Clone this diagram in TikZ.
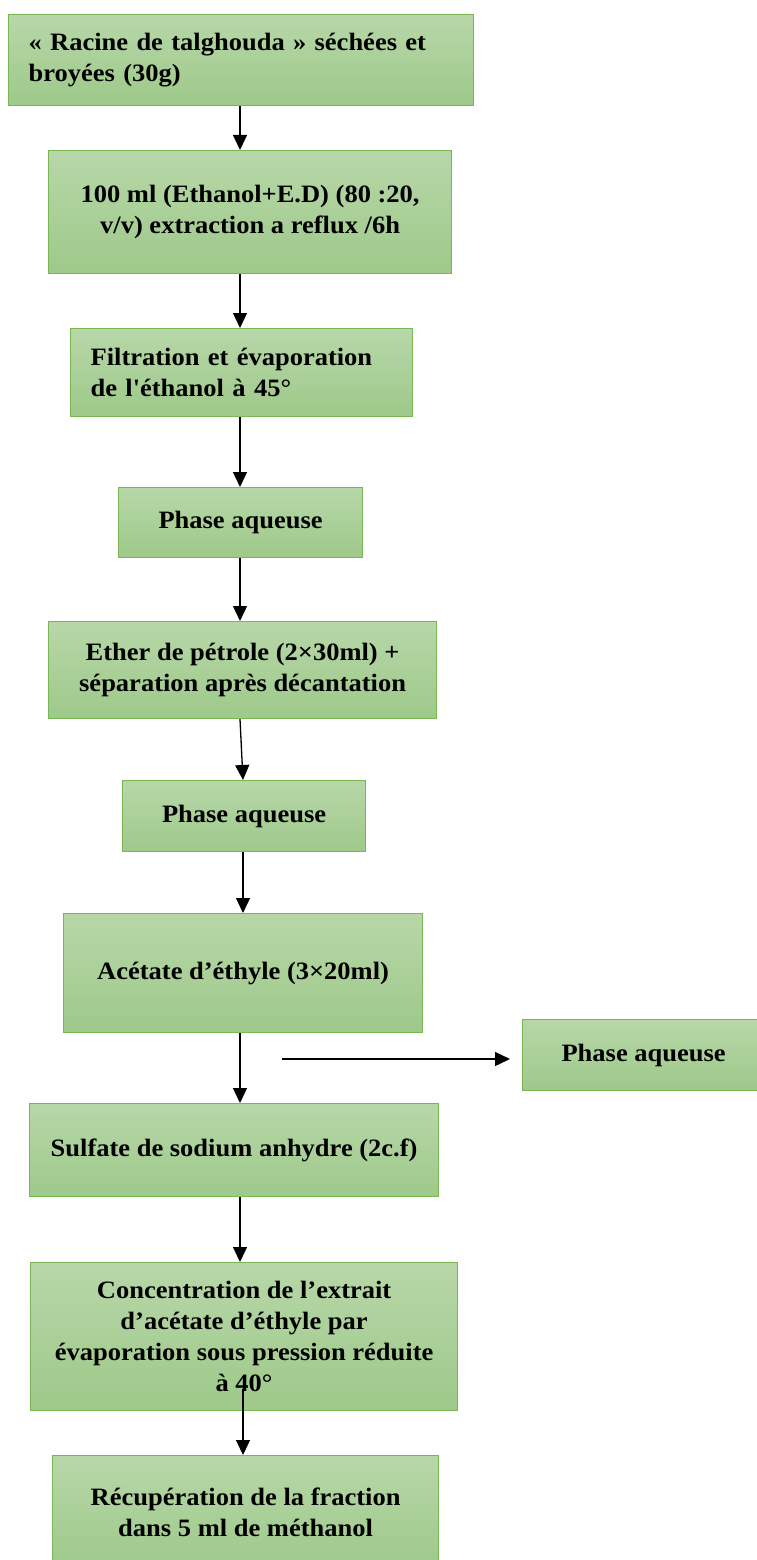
\documentclass[tikz,border=0pt]{standalone}
\usepackage{fontspec}
\setmainfont{Liberation Serif}[FakeStretch=1.06,Ligatures=TeXOff]
\usetikzlibrary{arrows.meta}
\definecolor{leafTop}{RGB}{183,215,168}
\definecolor{leafBot}{RGB}{158,201,138}
\definecolor{leafLine}{RGB}{122,182,84}

\begin{document}
\begin{tikzpicture}[x=1pt, y=-1pt,
  stage/.style={draw=leafLine, line width=1.2pt, top color=leafTop, bottom color=leafBot,
                anchor=north west, inner sep=0pt, align=center,
                font=\fontsize{25}{31}\selectfont\bfseries},
  stageL/.style={stage, align=left, inner xsep=20pt},
  arr/.style={-{Triangle[length=15pt,width=14pt]}, line width=1.3pt, draw=black}
]
  \useasboundingbox (0,0) rectangle (757,1560);

  % Nodes
  \node[stageL, minimum width=465pt, minimum height=91pt, text width=425pt] (racine) at (8,14)
    {« Racine de talghouda » séchées et\\broyées (30g)};
  \node[stage, minimum width=403pt, minimum height=123pt] (extr) at (48,150)
    {100 ml (Ethanol+E.D) (80 :20,\\v/v) extraction a reflux /6h};
  \node[stageL, minimum width=342pt, minimum height=88pt, text width=302pt] (filt) at (70,328)
    {Filtration et évaporation\\de l'éthanol à 45°};
  \node[stage, minimum width=244pt, minimum height=70pt] (aqa) at (118,487) {Phase aqueuse};
  \node[stage, minimum width=388pt, minimum height=97pt] (ether) at (48,621)
    {Ether de pétrole (2×30ml) +\\séparation après décantation};
  \node[stage, minimum width=243pt, minimum height=71pt] (aqb) at (122,780) {Phase aqueuse};
  \node[stage, minimum width=359pt, minimum height=119pt] (acet) at (63,913)
    {Acétate d’éthyle (3×20ml)};
  \node[stage, minimum width=242pt, minimum height=71pt] (aqc) at (522,1019) {Phase aqueuse};
  \node[stage, minimum width=409pt, minimum height=93pt] (sulf) at (29,1103)
    {Sulfate de sodium anhydre (2c.f)};
  \node[stage, minimum width=427pt, minimum height=148pt] (conc) at (30,1262)
    {Concentration de l’extrait\\d’acétate d’éthyle par\\évaporation sous pression réduite\\à 40°};
  \node[stage, minimum width=386pt, minimum height=114pt] (recup) at (52,1455)
    {Récupération de la fraction\\dans 5 ml de méthanol};

  \coordinate (ax) at (240,0);
  \coordinate (bx) at (243,0);
  \coordinate (cstart) at ([yshift=22pt]conc.south -| bx);
  \coordinate (hstart) at (282,1059);
  \coordinate (hend) at (510,1059);

  % Paths
  \draw[arr] (racine.south -| ax) -- (extr.north -| ax);
  \draw[arr] (extr.south -| ax) -- (filt.north -| ax);
  \draw[arr] (filt.south -| ax) -- (aqa.north -| ax);
  \draw[arr] (aqa.south -| ax) -- (ether.north -| ax);
  \draw[arr] (ether.south -| ax) -- (aqb.north -| bx);
  \draw[arr] (aqb.south -| bx) -- (acet.north -| bx);
  \draw[arr] (acet.south -| ax) -- (sulf.north -| ax);
  \draw[arr] (hstart) -- (hend);
  \draw[arr] (sulf.south -| ax) -- (conc.north -| ax);
  \draw[arr] (cstart) -- (recup.north -| bx);
\end{tikzpicture}
\end{document}
